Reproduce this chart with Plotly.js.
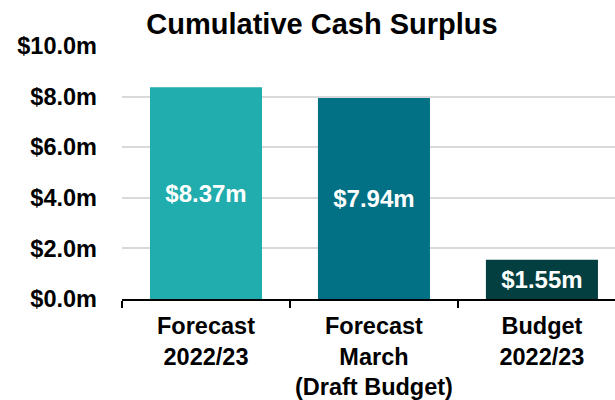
<!DOCTYPE html>
<html>
<head>
<meta charset="utf-8">
<script src="https://cdn.plot.ly/plotly-3.0.1.min.js"></script>
<style>html,body{margin:0;padding:0;background:#fff}#chart{width:615px;height:400px}</style>
</head>
<body>
<div id="chart"></div>
<script>
const categories = ["Forecast<br>2022/23", "Forecast<br>March<br>(Draft Budget)", "Budget<br>2022/23"];
const values = [8.37, 7.94, 1.55];
const barColors = ["#21ADAD", "#037185", "#033F40"];
const yTickVals = [0, 2, 4, 6, 8, 10];
const yTickLabels = ["$0.0m", "$2.0m", "$4.0m", "$6.0m", "$8.0m", "$10.0m"];

const font = "Liberation Sans, Arial, sans-serif";

Plotly.newPlot("chart", [{
  type: "bar",
  x: categories,
  y: values,
  width: 0.667,
  marker: {color: barColors},
  texttemplate: "$%{y:.2f}m",
  textposition: "inside",
  insidetextanchor: "middle",
  textangle: 0,
  constraintext: "none",
  textfont: {family: font, size: 24, color: "#ffffff", weight: "bold"},
  hoverinfo: "none"
}], {
  width: 615, height: 400,
  margin: {l: 122, r: 0, t: 46, b: 101, pad: 0},
  paper_bgcolor: "#ffffff", plot_bgcolor: "#ffffff",
  showlegend: false,
  title: {
    text: "<b>Cumulative Cash Surplus</b>",
    font: {family: font, size: 29, color: "#000000"},
    xref: "container", yref: "container",
    x: 322/615, xanchor: "center",
    y: 1 - 24/400, yanchor: "middle"
  },
  xaxis: {
    range: [-0.5, 2.435],
    showline: true, linecolor: "#000000", linewidth: 2,
    ticks: "outside", tickson: "boundaries", ticklen: 7, tickwidth: 2, tickcolor: "#000000",
    tickfont: {family: font, size: 23.5, color: "#000000", weight: "bold"},
    ticklabelstandoff: 5,
    showgrid: false, zeroline: false, fixedrange: true
  },
  yaxis: {
    range: [0, 10],
    tickmode: "array",
    tickvals: yTickVals,
    ticktext: yTickLabels,
    tickfont: {family: font, size: 23.5, color: "#000000", weight: "bold"},
    ticks: "", ticklabelstandoff: 24,
    showgrid: true, gridcolor: "#d9d9d9", gridwidth: 2,
    zeroline: false, showline: false, fixedrange: true
  }
}, {staticPlot: true, displayModeBar: false});
</script>
</body>
</html>
